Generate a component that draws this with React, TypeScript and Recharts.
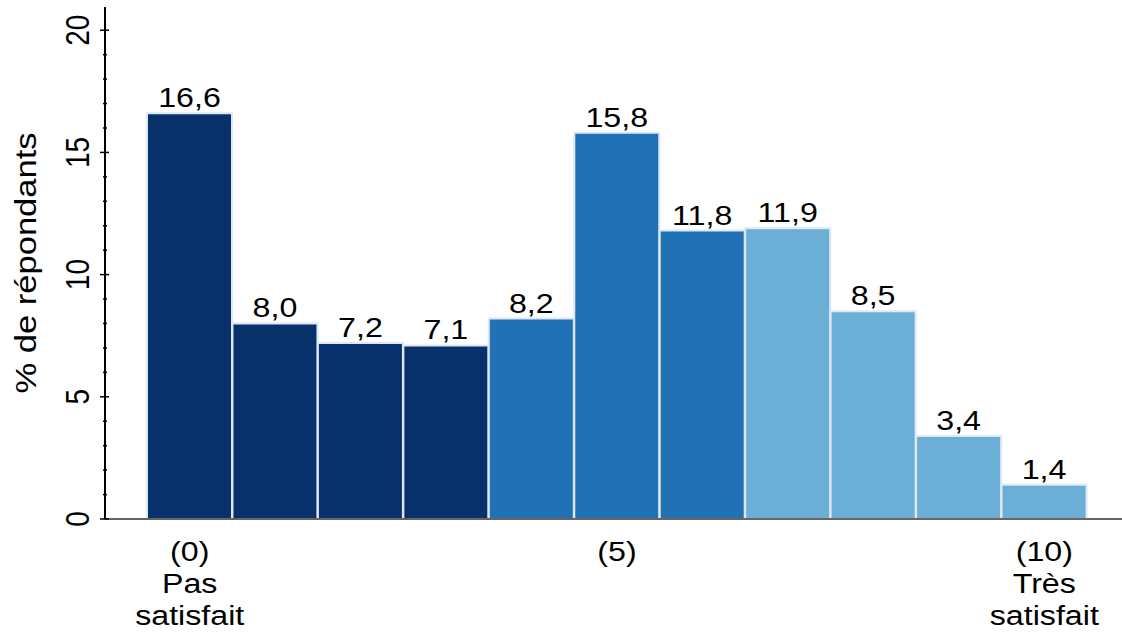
import React from "react";
import { BarChart, Bar, XAxis, YAxis, Cell, LabelList } from "recharts";

// satisfaction score 0..10
const categories = ["0", "1", "2", "3", "4", "5", "6", "7", "8", "9", "10"];
const shares = [16.6, 8.0, 7.2, 7.1, 8.2, 15.8, 11.8, 11.9, 8.5, 3.4, 1.4];
const bands = ["low", "low", "low", "low", "mid", "mid", "mid", "high", "high", "high", "high"];

const xTickLabels: Record<string, string[]> = {
  "0": ["(0)", "Pas", "satisfait"],
  "5": ["(5)"],
  "10": ["(10)", "Très", "satisfait"],
};
const yTicks = [0, 1, 2, 3, 4, 5, 6, 7, 8, 9, 10, 11, 12, 13, 14, 15, 16, 17, 18, 19, 20];
const yMajor = [0, 5, 10, 15, 20];

const bandColors: Record<string, string> = {
  low: "#08306b",
  mid: "#2171b5",
  high: "#6baed6",
};

const FONT = "'Liberation Sans', Arial, sans-serif";

const data = categories.map((cat, i) => ({ cat, value: shares[i], band: bands[i] }));

const fmt = (v: number) => v.toFixed(1).replace(".", ",");

function Txt({ x, y, size = 28, sx = 1.15, sy = 1, rot = 0, children }: any) {
  return (
    <g transform={`translate(${x},${y}) scale(${sx},${sy}) rotate(${rot})`}>
      <text x={0} y={0} textAnchor="middle" fontSize={size} fontFamily={FONT} fill="#000">
        {children}
      </text>
    </g>
  );
}

function XTick(props: any) {
  const { x, y, payload } = props;
  const lines = xTickLabels[payload.value];
  if (!lines) return null;
  return (
    <g>
      {lines.map((line, i) => (
        <Txt key={i} x={x} y={y + 42 + i * 32}>
          {line}
        </Txt>
      ))}
    </g>
  );
}

function YTick(props: any) {
  const { x, y, payload } = props;
  const major = yMajor.includes(payload.value);
  return (
    <g>
      <line
        x1={major ? x - 5 : x - 2}
        x2={major ? x + 4 : x + 2}
        y1={y}
        y2={y}
        stroke="#000"
        strokeWidth={1.5}
      />
      {major && (
        <Txt x={x - 16} y={y} sx={1.2} rot={-90}>
          {payload.value}
        </Txt>
      )}
    </g>
  );
}

function YLabel(props: any) {
  const { viewBox } = props;
  return (
    <Txt x={viewBox.x + 36} y={viewBox.y + viewBox.height / 2} size={32} sx={0.9} sy={1.08} rot={-90}>
      % de répondants
    </Txt>
  );
}

function ValueLabel(props: any) {
  const { x, y, width, value } = props;
  return (
    <Txt x={x + width / 2} y={y - 6}>
      {fmt(value)}
    </Txt>
  );
}

export default function App() {
  return (
    <div style={{ position: "absolute", left: 0, top: 0, width: 1122, height: 633, background: "#fff" }}>
      <BarChart
        width={1122}
        height={633}
        data={data}
        margin={{ top: 7, right: 0, bottom: 0, left: 0 }}
        barCategoryGap={0}
      >
        <XAxis
          dataKey="cat"
          height={114}
          interval={0}
          tickSize={0}
          tickMargin={0}
          tickLine={false}
          axisLine={{ stroke: "#666", strokeWidth: 2 }}
          padding={{ left: 42, right: 35 }}
          tick={<XTick />}
        />
        <YAxis
          width={105}
          domain={[0, 20.95]}
          ticks={yTicks}
          interval={0}
          tickSize={0}
          tickMargin={0}
          tickLine={false}
          axisLine={{ stroke: "#000", strokeWidth: 2 }}
          tick={<YTick />}
          label={{ content: <YLabel /> }}
        />
        <Bar dataKey="value" isAnimationActive={false} stroke="#dde8f4" strokeWidth={2}>
          {data.map((d, i) => (
            <Cell key={i} fill={bandColors[d.band]} />
          ))}
          <LabelList dataKey="value" content={<ValueLabel />} />
        </Bar>
      </BarChart>
    </div>
  );
}
